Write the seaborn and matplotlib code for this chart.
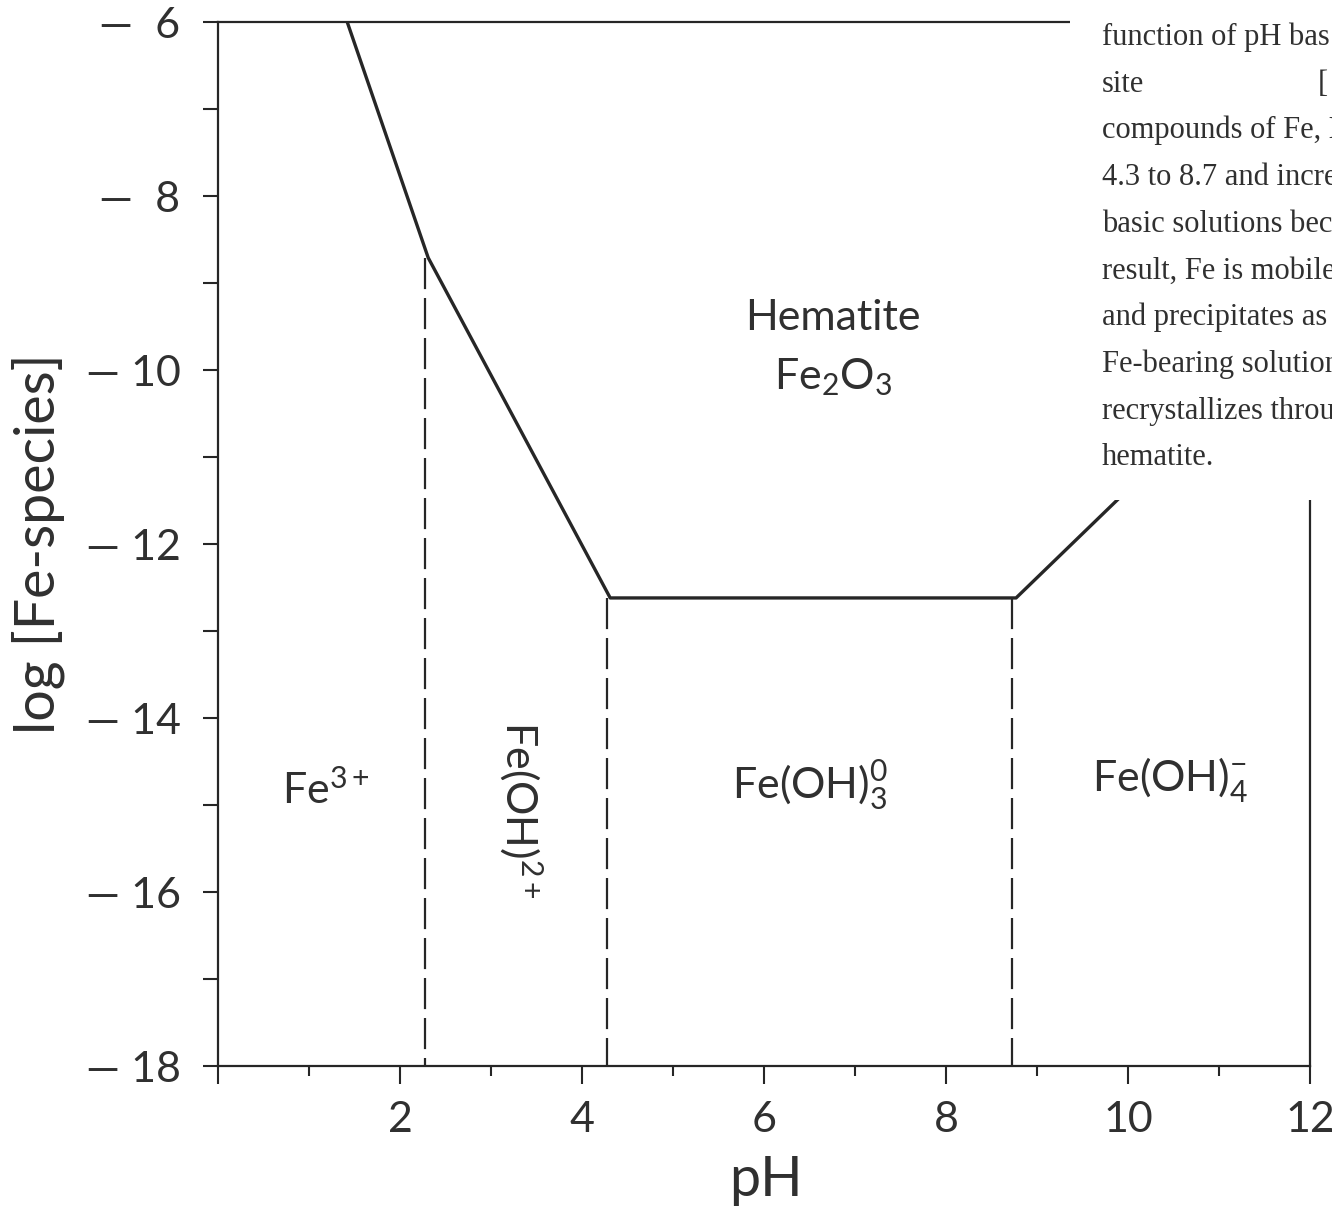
import matplotlib
matplotlib.use("Agg")
import matplotlib.pyplot as plt
import seaborn as sns
import pandas as pd
from matplotlib.patches import Rectangle
from matplotlib.ticker import FixedLocator, FixedFormatter

# Solubility boundary of hematite (solid line)
boundary_ph = [1.42, 2.31, 4.31, 8.77, 12.0]
boundary_log = [-6.0, -8.71, -12.62, -12.62, -9.35]

# Dashed dividers between the dissolved Fe species fields
divider_ph = [2.28, 4.28, 8.73]
divider_top = [-8.71, -12.62, -12.62]
divider_bottom = [-18.0, -18.0, -18.0]

# Axis ticks
x_major = [0, 2, 4, 6, 8, 10, 12]
x_major_labels = ["", "2", "4", "6", "8", "10", "12"]
x_minor = [1, 3, 5, 7, 9, 11]
y_major = [-6, -8, -10, -12, -14, -16, -18]
y_major_labels = ["\u2014  6", "\u2014  8", "\u2014 10", "\u2014 12", "\u2014 14", "\u2014 16", "\u2014 18"]
y_minor = [-7, -9, -11, -13, -15, -17]

# Field labels
field_labels = ["Hematite", "Fe$_2$O$_3$", "Fe$^{3+}$", "Fe(OH)$^{2+}$",
                "Fe(OH)$_3^0$", "Fe(OH)$_4^{-}$"]
field_ph = [6.76, 6.76, 1.18, 3.32, 6.51, 10.46]
field_log = [-9.40, -10.08, -14.83, -15.06, -14.77, -14.71]
field_rotation = [0, 0, 0, -90, 0, 0]

# Running text beside the diagram
note_lines = ["function of pH bas", "site", "compounds of Fe, M", "4.3 to 8.7 and incre",
              "basic solutions bec", "result, Fe is mobile", "and precipitates as",
              "Fe-bearing solution", "recrystallizes throu", "hematite."]

sns.set_theme(style="ticks")
plt.rcParams["font.family"] = ["Lato", "DejaVu Sans"]
plt.rcParams["mathtext.fontset"] = "custom"
plt.rcParams["mathtext.rm"] = "Lato"
plt.rcParams["mathtext.it"] = "Lato:italic"
plt.rcParams["mathtext.bf"] = "Lato:bold"

ink = "#262626"
label_ink = "#303030"

fig = plt.figure(figsize=(13.32, 12.25), dpi=100)
fig.patch.set_facecolor("white")
ax = fig.add_axes([218 / 1332, 1 - 1066 / 1225, (1310 - 218) / 1332, (1066 - 22) / 1225])
ax.set_facecolor("white")

bdf = pd.DataFrame({"ph": boundary_ph, "log": boundary_log})
sns.lineplot(data=bdf, x="ph", y="log", sort=False, estimator=None,
             color=ink, linewidth=2.4, ax=ax)

rows = []
for i, (x, top, bot) in enumerate(zip(divider_ph, divider_top, divider_bottom)):
    rows.append({"ph": x, "log": top, "seg": i})
    rows.append({"ph": x, "log": bot, "seg": i})
ddf = pd.DataFrame(rows)
sns.lineplot(data=ddf, x="ph", y="log", units="seg", estimator=None, sort=False,
             color=ink, linewidth=1.6, ax=ax)
for line in ax.lines[1:]:
    line.set_dashes((14, 4))

ax.set_xlim(0, 12)
ax.set_ylim(-18, -6)

for side in ["left", "right", "top", "bottom"]:
    ax.spines[side].set_visible(True)
    ax.spines[side].set_color(ink)
    ax.spines[side].set_linewidth(1.6)

ax.xaxis.set_major_locator(FixedLocator(x_major))
ax.xaxis.set_major_formatter(FixedFormatter(x_major_labels))
ax.xaxis.set_minor_locator(FixedLocator(x_minor))
ax.yaxis.set_major_locator(FixedLocator(y_major))
ax.yaxis.set_major_formatter(FixedFormatter(y_major_labels))
ax.yaxis.set_minor_locator(FixedLocator(y_minor))

ax.tick_params(axis="x", which="major", direction="out", length=13, width=1.5,
               color=ink, labelcolor=label_ink, labelsize=31, pad=12, top=False)
ax.tick_params(axis="x", which="minor", direction="out", length=7, width=1.5,
               color=ink, top=False)
ax.tick_params(axis="y", which="major", direction="out", length=11, width=1.5,
               color=ink, labelcolor=label_ink, labelsize=31, pad=16, right=False)
ax.tick_params(axis="y", which="minor", direction="out", length=11, width=1.5,
               color=ink, right=False)

ax.set_xlabel("pH", fontsize=40, color=label_ink)
ax.set_ylabel("log [Fe-species]", fontsize=40, color=label_ink)
ax.xaxis.set_label_coords(0.502, -0.085)
ax.yaxis.set_label_coords(-0.140, 0.5)

for lab, x, y, rot in zip(field_labels, field_ph, field_log, field_rotation):
    ax.text(x, y, lab, ha="center", va="center", rotation=rot,
            fontsize=31, color=label_ink)

# Page text block overlapping the upper right corner
fig.add_artist(Rectangle((1070 / 1332, 1 - 500 / 1225), 1 - 1070 / 1332, 500 / 1225,
                         transform=fig.transFigure, facecolor="white",
                         edgecolor="none", zorder=5))
for i, line in enumerate(note_lines):
    yb = 1 - (45 + i * 46.7) / 1225
    fig.text(1102 / 1332, yb, line, ha="left", va="baseline", fontsize=22,
             family="Liberation Serif", color="#303030", zorder=6)
fig.text(1318 / 1332, 1 - (45 + 46.7) / 1225, "[", ha="left", va="baseline",
         fontsize=22, family="Liberation Serif", color="#303030", zorder=6)

fig.savefig("out.png", dpi=100, facecolor="white")
